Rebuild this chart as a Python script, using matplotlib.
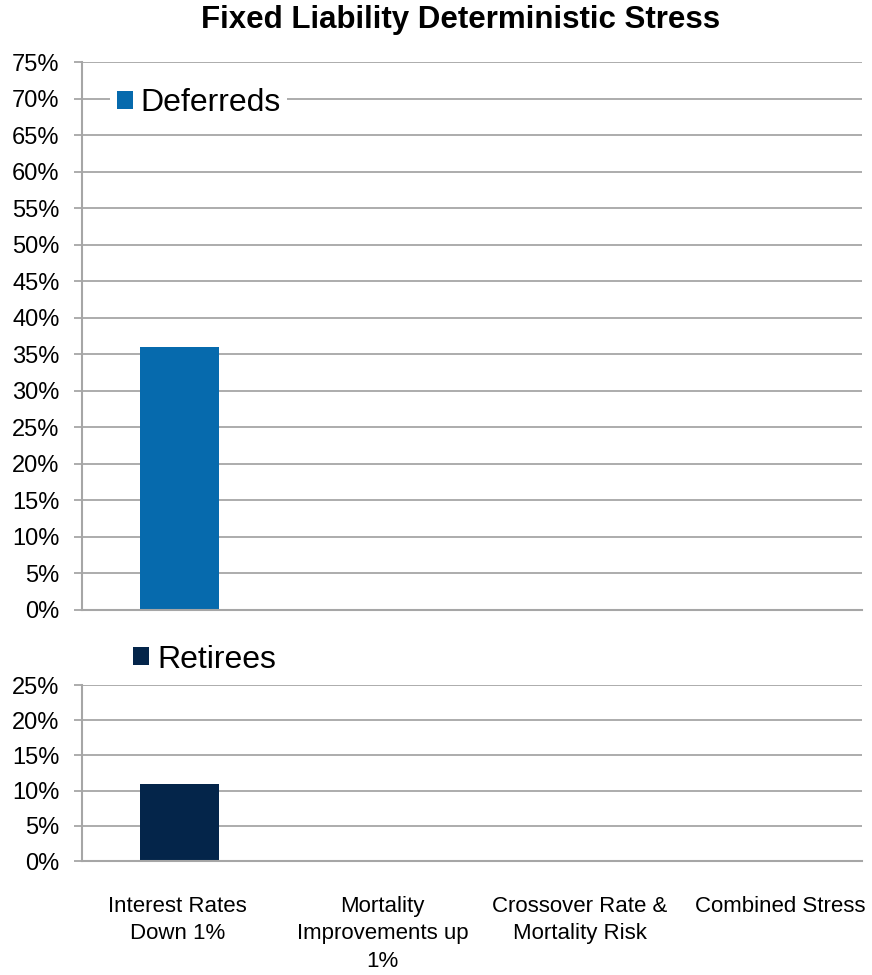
import matplotlib.pyplot as plt
import matplotlib.transforms as mtransforms
import numpy as np

plt.rcParams['font.family'] = ['Liberation Sans', 'DejaVu Sans']

categories = ['Interest Rates\nDown 1%', 'Mortality\nImprovements up\n1%',
              'Crossover Rate &\nMortality Risk', 'Combined Stress']
deferreds = [36, 0, 0, 0]
retirees = [11, 0, 0, 0]
top_ticks = list(range(0, 80, 5))
bottom_ticks = list(range(0, 30, 5))

blue = '#066aad'
navy = '#04254a'
grid = '#a6a6a6'

fig = plt.figure(figsize=(8.72, 9.75), dpi=100)
ax1 = fig.add_axes([0.094, 0.3744, 0.8945, 0.562])
ax2 = fig.add_axes([0.094, 0.1169, 0.8945, 0.1805])

x = np.arange(len(categories))


def style(ax, ticks):
    ax.set_xlim(-0.5, len(categories) - 0.5)
    ax.set_ylim(ticks[0], ticks[-1])
    ax.set_yticks(ticks)
    ax.set_yticklabels([f'{t}%' for t in ticks], fontsize=17)
    ax.yaxis.grid(True, color=grid, linewidth=1.3)
    ax.set_axisbelow(True)
    for s in ['top', 'right']:
        ax.spines[s].set_visible(False)
    for s in ['left', 'bottom']:
        ax.spines[s].set_color(grid)
        ax.spines[s].set_linewidth(1.5)
    ax.tick_params(axis='y', length=6, width=1.3, color=grid, pad=10)
    ax.tick_params(axis='x', length=0)


ax1.bar(x, deferreds, width=0.405, color=blue, label='Deferreds')
style(ax1, top_ticks)
ax1.set_xticks([])
ax1.legend(loc='upper left', bbox_to_anchor=(0.016, 0.993), fontsize=23,
           frameon=True, framealpha=1, edgecolor='none', fancybox=False,
           handlelength=0.5, handleheight=0.5, handletextpad=0.25,
           borderpad=0.2)

ax2.bar(x, retirees, width=0.405, color=navy, label='Retirees')
style(ax2, bottom_ticks)
ax2.set_xticks(x)
ax2.set_xticklabels(categories, fontsize=16, va='top', linespacing=1.4)
ax2.tick_params(axis='x', pad=25)
# nudge the wrapped category labels sideways (in pixels)
shifts = [-2, 8, 10, 16]
for lab, dx in zip(ax2.get_xticklabels(), shifts):
    lab.set_transform(lab.get_transform() +
                      mtransforms.ScaledTranslation(dx / 100, 0, fig.dpi_scale_trans))
ax2.legend(loc='lower left', bbox_to_anchor=(0.041, 0.95), fontsize=23,
           frameon=False, handlelength=0.5, handleheight=0.5,
           handletextpad=0.25, borderpad=0.1)

fig.suptitle('Fixed Liability Deterministic Stress', fontsize=22.5, fontweight='bold',
             x=0.528, y=0.995)

fig.savefig('out.png', dpi=100)
